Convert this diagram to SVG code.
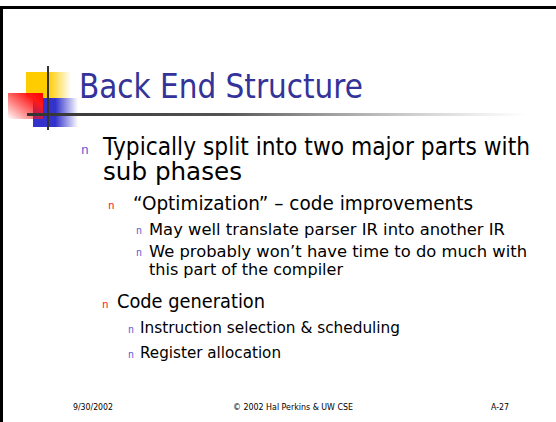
<svg xmlns="http://www.w3.org/2000/svg" width="556" height="422" viewBox="0 0 556 422">
  <style>
    .body { font-family: "DejaVu Sans", Verdana, sans-serif; fill: #000; }
    .title { font-family: "DejaVu Sans", Verdana, sans-serif; fill: #333399; font-size: 34px; }
    .foot { font-family: "DejaVu Sans", Verdana, sans-serif; fill: #000; font-size: 9.5px; }
    .bl { font-family: "Liberation Mono", monospace; fill: #5a5ad6; }
    .br { font-family: "Liberation Mono", monospace; fill: #ff2020; }
  </style>
  <defs>
    <linearGradient id="gYellow" x1="0" y1="0" x2="1" y2="0">
      <stop offset="0" stop-color="#ffcc00"/>
      <stop offset="0.5" stop-color="#ffcc00"/>
      <stop offset="1" stop-color="#ffcc00" stop-opacity="0"/>
    </linearGradient>
    <linearGradient id="gRed" x1="1" y1="0" x2="0" y2="1">
      <stop offset="0" stop-color="#ff0000"/>
      <stop offset="0.25" stop-color="#ff1a1a"/>
      <stop offset="1" stop-color="#ff0000" stop-opacity="0"/>
    </linearGradient>
    <linearGradient id="gBlue" x1="0" y1="0" x2="1" y2="0">
      <stop offset="0" stop-color="#3333cc"/>
      <stop offset="0.5" stop-color="#3333cc"/>
      <stop offset="1" stop-color="#3333cc" stop-opacity="0"/>
    </linearGradient>
    <linearGradient id="gRule" x1="0" y1="0" x2="1" y2="0">
      <stop offset="0" stop-color="#333333"/>
      <stop offset="0.4" stop-color="#555555"/>
      <stop offset="1" stop-color="#999999" stop-opacity="0"/>
    </linearGradient>
  </defs>

  <rect width="556" height="422" fill="#ffffff"/>
  <!-- slide frame -->
  <rect x="0" y="6" width="556" height="3" fill="#000"/>
  <rect x="0" y="6" width="3" height="416" fill="#000"/>

  <!-- title ornament -->
  <g id="ornament">
    <rect x="26" y="72" width="45" height="26" fill="url(#gYellow)"/>
    <rect x="33" y="98" width="45" height="29" fill="url(#gBlue)"/>
    <rect x="8" y="93" width="35" height="26" fill="url(#gRed)"/>
    <rect x="27" y="113" width="500" height="3" fill="url(#gRule)"/>
    <rect x="47" y="66" width="2" height="64" fill="#333333"/>
  </g>

  <g id="title">
    <text class="title" x="79" y="98" textLength="284" lengthAdjust="spacingAndGlyphs">Back End Structure</text>
  </g>

  <g id="bullets">
    <text class="bl" x="81" y="154" font-size="13">n</text>
    <text class="body" x="103" y="155" font-size="24" textLength="427" lengthAdjust="spacingAndGlyphs">Typically split into two major parts with</text>
    <text class="body" x="103" y="180" font-size="24" textLength="139" lengthAdjust="spacingAndGlyphs">sub phases</text>

    <text class="br" x="108" y="209" font-size="11">n</text>
    <text class="body" x="133" y="210" font-size="19.5" textLength="340" lengthAdjust="spacingAndGlyphs">“Optimization” – code improvements</text>

    <text class="bl" x="136" y="234" font-size="10">n</text>
    <text class="body" x="149" y="235" font-size="16.5" textLength="356" lengthAdjust="spacingAndGlyphs">May well translate parser IR into another IR</text>
    <text class="bl" x="136" y="256" font-size="10">n</text>
    <text class="body" x="149" y="257" font-size="16.5" textLength="378" lengthAdjust="spacingAndGlyphs">We probably won’t have time to do much with</text>
    <text class="body" x="149" y="275" font-size="16.5" textLength="194" lengthAdjust="spacingAndGlyphs">this part of the compiler</text>

    <text class="br" x="102" y="308" font-size="11">n</text>
    <text class="body" x="117" y="308" font-size="19.5" textLength="148" lengthAdjust="spacingAndGlyphs">Code generation</text>

    <text class="bl" x="128" y="333" font-size="10">n</text>
    <text class="body" x="140" y="333" font-size="16.5" textLength="260" lengthAdjust="spacingAndGlyphs">Instruction selection &amp; scheduling</text>
    <text class="bl" x="128" y="358" font-size="10">n</text>
    <text class="body" x="140" y="358" font-size="16.5" textLength="141" lengthAdjust="spacingAndGlyphs">Register allocation</text>
  </g>

  <g id="footer">
    <text class="foot" x="73" y="410" textLength="40" lengthAdjust="spacingAndGlyphs">9/30/2002</text>
    <text class="foot" x="233" y="410" textLength="120" lengthAdjust="spacingAndGlyphs">© 2002 Hal Perkins &amp; UW CSE</text>
    <text class="foot" x="491" y="410" textLength="18" lengthAdjust="spacingAndGlyphs">A-27</text>
  </g>
</svg>
